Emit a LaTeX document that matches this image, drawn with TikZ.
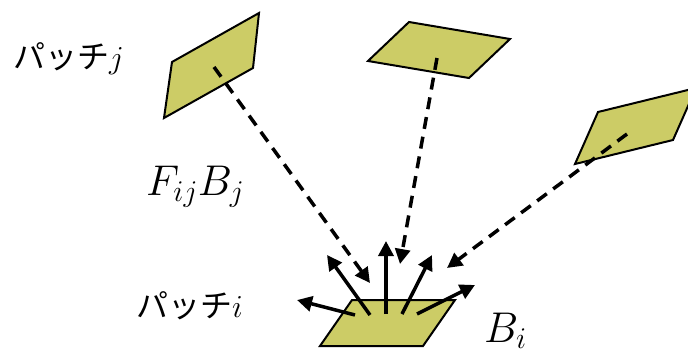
\RequirePackage{fix-cm}
\documentclass[tikz,border=0pt]{standalone}
\usepackage{fontspec}
\newfontfamily\jpfont{Noto Sans CJK JP}
\usetikzlibrary{arrows.meta}
\definecolor{patchfill}{RGB}{204,204,102}

\begin{document}
\begin{tikzpicture}[
        x=1pt, y=-1pt,
        >={Triangle[length=15pt,width=15pt]},
        patch/.style={draw=black, line width=2pt, fill=patchfill},
        emit/.style={->, draw=black, line width=3.5pt},
        recv/.style={->, draw=black, line width=3.5pt, dash pattern=on 12pt off 8pt},
        lbl/.style={inner sep=0pt, font=\jpfont\fontsize{32}{36}\selectfont},
        mlbl/.style={inner sep=0pt, font=\fontsize{43}{48}\selectfont}
    ]
    \clip (0,0) rectangle (688,354);

    % Patches
    \draw[patch] (172,62)  -- (259,13)  -- (253,68)  -- (164,118) -- cycle;
    \draw[patch] (409,22)  -- (510,39)  -- (469,78)  -- (368,61)  -- cycle;
    \draw[patch] (598,112) -- (696,88)  -- (673,140) -- (575,164) -- cycle;
    \draw[patch] (320,346) -- (352,300) -- (455,300) -- (423,346) -- cycle;

    % Source points and tips
    \coordinate (pj) at (214,67);
    \coordinate (pk) at (437,58);
    \coordinate (pl) at (627,134);
    \coordinate (tj) at (370,283);
    \coordinate (tk) at (400,264);
    \coordinate (tl) at (447,268);

    % Incoming radiosity
    \draw[recv] (pj) -- (tj);
    \draw[recv] (pk) -- (tk);
    \draw[recv] (pl) -- (tl);

    % Outgoing radiosity from patch i
    \coordinate (e1) at (355,315);  \coordinate (f1) at (297,300);
    \coordinate (e2) at (370,315);  \coordinate (f2) at (327,255);
    \coordinate (e3) at (386,314);  \coordinate (f3) at (386,241);
    \coordinate (e4) at (402,314);  \coordinate (f4) at (432,255);
    \coordinate (e5) at (417,314);  \coordinate (f5) at (475,285);
    \draw[emit] (e1) -- (f1);
    \draw[emit] (e2) -- (f2);
    \draw[emit] (e3) -- (f3);
    \draw[emit] (e4) -- (f4);
    \draw[emit] (e5) -- (f5);

    % Labels
    \node[lbl, anchor=base west]  (labj) at (13,68)   {パッチ$j$};
    \node[lbl, anchor=base west]  (labi) at (136,317) {パッチ$i$};
    \node[mlbl, anchor=base west] (flux) at (146,195) {$F_{ij}B_j$};
    \node[mlbl, anchor=base west] (bi)   at (484,342) {$B_i$};

\end{tikzpicture}
\end{document}
